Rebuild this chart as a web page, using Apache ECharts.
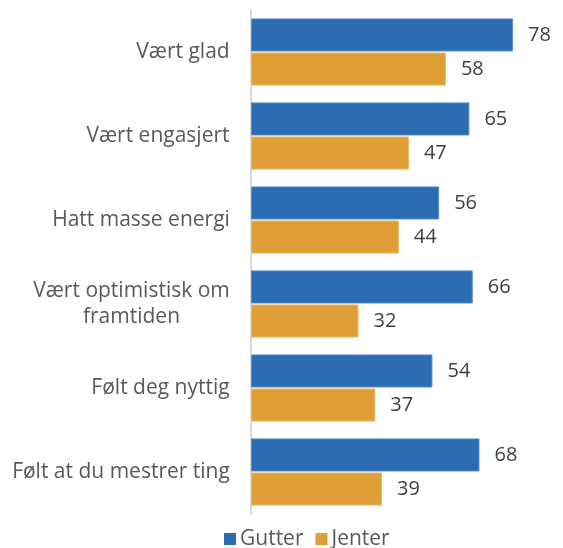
<!DOCTYPE html>
<html>
<head>
<meta charset="utf-8">
<script src="https://cdn.jsdelivr.net/npm/echarts@6/dist/echarts.min.js"></script>
<style>
  html, body { margin: 0; padding: 0; background: #fff; }
  #chart { width: 563px; height: 548px; }
</style>
</head>
<body>
<div id="chart"></div>
<script>
  var categories = ['Vært glad', 'Vært engasjert', 'Hatt masse energi', 'Vært optimistisk om\nframtiden', 'Følt deg nyttig', 'Følt at du mestrer ting'];
  var gutter = [78, 65, 56, 66, 54, 68];
  var jenter = [58, 47, 44, 32, 37, 39];

  var chart = echarts.init(document.getElementById('chart'));
  var font = 'Open Sans';

  // lines of a multi-line label are centred inside a box as wide as its longest line
  var ctx = document.createElement('canvas').getContext('2d');
  ctx.font = '21px "' + font + '"';
  var rich = {};
  categories.forEach(function (c, i) {
    var w = Math.max.apply(null, c.split('\n').map(function (s) { return ctx.measureText(s).width; }));
    rich['c' + i] = { fontSize: 21, color: '#595959', fontFamily: font, width: Math.ceil(w), align: 'center', lineHeight: 26 };
  });

  var option = {
    animation: false,
    textStyle: { fontFamily: font },
    legend: {
      left: 224,
      top: 528,
      padding: 0,
      itemWidth: 12,
      itemHeight: 12,
      itemGap: 12,
      icon: 'rect',
      itemStyle: { borderWidth: 0 },
      textStyle: { fontSize: 21, lineHeight: 22, color: '#595959', fontFamily: font, padding: [0, 0, 0, -1] },
      data: ['Gutter', 'Jenter']
    },
    grid: { left: 251, top: 10, width: 302.4, height: 504 },
    xAxis: {
      type: 'value',
      min: 0,
      max: 90,
      show: false
    },
    yAxis: {
      type: 'category',
      inverse: true,
      data: categories,
      axisLine: { lineStyle: { color: '#d9d9d9', width: 2 } },
      axisTick: { show: false },
      axisLabel: {
        margin: 21,
        align: 'right',
        formatter: function (v, i) {
          return v.split('\n').map(function (s) { return '{c' + i + '|' + s + '}'; }).join('\n');
        },
        rich: rich
      }
    },
    series: [{
      name: 'Gutter',
      type: 'bar',
      data: gutter,
      barGap: '3%',
      barCategoryGap: '20%',
      itemStyle: { color: '#2b6cb3', borderColor: '#5b8fca', borderWidth: 1 },
      label: { show: true, position: 'right', distance: 15, fontSize: 20, color: '#404040', fontFamily: font }
    }, {
      name: 'Jenter',
      type: 'bar',
      data: jenter,
      barGap: '3%',
      barCategoryGap: '20%',
      itemStyle: { color: '#e09f36', borderColor: '#eab968', borderWidth: 1 },
      label: { show: true, position: 'right', distance: 15, fontSize: 20, color: '#404040', fontFamily: font }
    }]
  };
  chart.setOption(option);
</script>
</body>
</html>
